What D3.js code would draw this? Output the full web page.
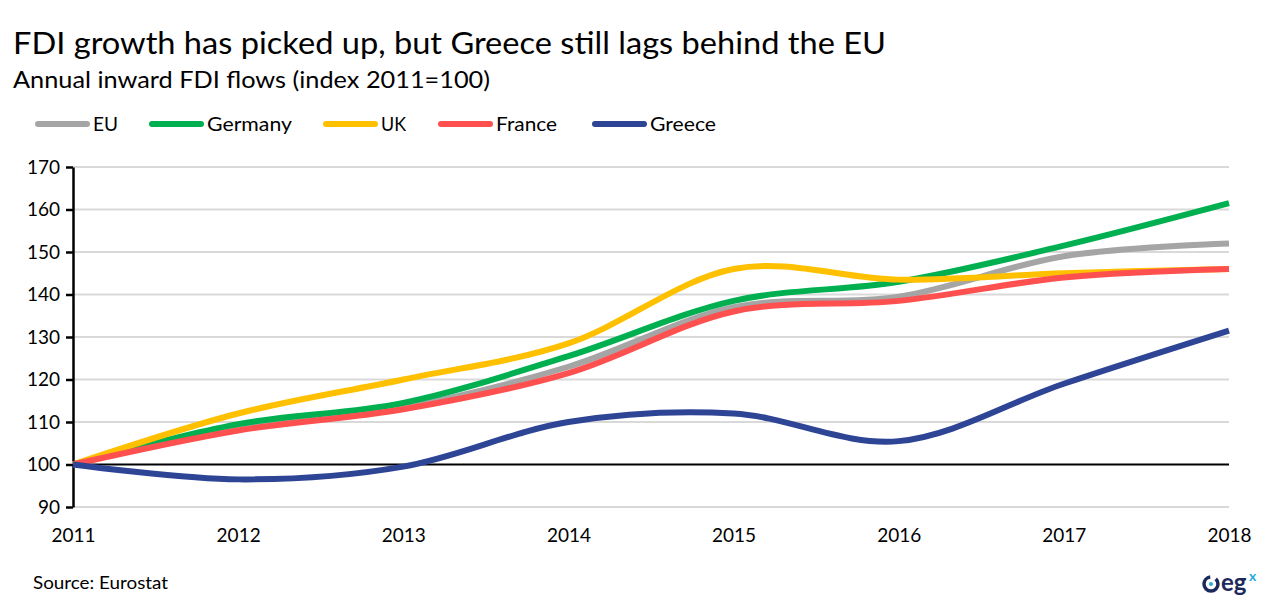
<!DOCTYPE html>
<html>
<head>
<meta charset="utf-8">
<script src="https://cdn.jsdelivr.net/npm/d3@7"></script>
<style>
  body { margin: 0; background: #fff; }
  text { font-family: Lato, "Open Sans", sans-serif; fill: #000; }
</style>
</head>
<body>
<div id="chart"></div>
<script>
// chart data
var years = [2011, 2012, 2013, 2014, 2015, 2016, 2017, 2018];
var seriesNames = ["EU", "Germany", "UK", "France", "Greece"];
var seriesColors = ["#A5A5A5", "#00B050", "#FFC000", "#FF5050", "#2E4596"];
var euValues      = [100, 109, 113.5, 123, 137, 139.5, 149, 152];
var germanyValues = [100, 109.5, 114.5, 125.5, 138.5, 143, 151.5, 161.5];
var ukValues      = [100, 112, 120, 128.5, 146, 143.5, 145, 146];
var franceValues  = [100, 108, 113, 121.5, 136, 138.5, 144, 146];
var greeceValues  = [100, 96.5, 99.5, 110, 112, 105.5, 119, 131.5];
var yTicks = [90, 100, 110, 120, 130, 140, 150, 160, 170];

var allValues = [euValues, germanyValues, ukValues, franceValues, greeceValues];

var width = 1280, height = 616;
var margins = { top: 167, bottom: 109, left: 73, right: 51 };

var svg = d3.select('#chart')
    .append('svg')
        .attr('width', width)
        .attr('height', height);

var x = d3.scaleLinear()
    .domain([2011, 2018])
    .range([margins.left, width - margins.right]);

var y = d3.scaleLinear()
    .domain([90, 170])
    .range([height - margins.bottom, margins.top]);

// titles
svg.append('text')
    .attr('x', 13).attr('y', 54)
    .attr('font-size', 31)
    .attr('textLength', 873).attr('lengthAdjust', 'spacingAndGlyphs')
    .text('FDI growth has picked up, but Greece still lags behind the EU');

svg.append('text')
    .attr('x', 13).attr('y', 88)
    .attr('font-size', 23)
    .attr('textLength', 477).attr('lengthAdjust', 'spacingAndGlyphs')
    .text('Annual inward FDI flows (index 2011=100)');

// legend
var legendX = [36, 150, 324, 439, 593];
var legendTextW = [25, 85, 25, 61, 66];
var legend = svg.append('g').selectAll('g')
    .data(seriesNames)
    .enter().append('g')
        .attr('transform', function (d, i) { return 'translate(' + legendX[i] + ',124)'; });

legend.append('line')
    .attr('x1', 2).attr('x2', 51)
    .attr('stroke', function (d, i) { return seriesColors[i]; })
    .attr('stroke-width', 6)
    .attr('stroke-linecap', 'round');

legend.append('text')
    .attr('x', 57).attr('y', 7)
    .attr('font-size', 20)
    .attr('textLength', function (d, i) { return legendTextW[i]; })
    .attr('lengthAdjust', 'spacingAndGlyphs')
    .text(function (d) { return d; });

// gridlines
svg.append('g')
    .selectAll('line')
    .data(yTicks)
    .enter().append('line')
        .attr('x1', margins.left).attr('x2', width - margins.right)
        .attr('y1', function (d) { return y(d); })
        .attr('y2', function (d) { return y(d); })
        .attr('stroke', function (d) { return d === 100 ? '#000' : '#D9D9D9'; })
        .attr('stroke-width', 2);

// y axis
var yAxis = d3.axisLeft(y)
    .tickValues(yTicks)
    .tickSize(7)
    .tickSizeOuter(0)
    .tickPadding(6);

var yG = svg.append('g')
    .attr('transform', 'translate(' + margins.left + ',0)')
    .call(yAxis);
yG.select('.domain').attr('stroke', '#000').attr('stroke-width', 2.5);
yG.selectAll('.tick line').attr('stroke', '#000').attr('stroke-width', 2.5);
yG.selectAll('.tick text')
    .attr('font-size', 19)
    .attr('font-family', 'Lato, sans-serif')
    .attr('fill', '#000');

// x axis labels
var xAxis = d3.axisBottom(x)
    .tickValues(years)
    .tickFormat(d3.format('d'))
    .tickSize(0)
    .tickPadding(22);

var xG = svg.append('g')
    .attr('transform', 'translate(0,' + y(90) + ')')
    .call(xAxis);
xG.select('.domain').remove();
xG.selectAll('.tick text')
    .attr('font-size', 19)
    .attr('font-family', 'Lato, sans-serif')
    .attr('fill', '#000');

// lines
var line = d3.line()
    .x(function (d, i) { return x(years[i]); })
    .y(function (d) { return y(d); })
    .curve(d3.curveCatmullRom.alpha(0));

svg.append('g')
    .selectAll('path')
    .data(allValues)
    .enter().append('path')
        .attr('d', line)
        .attr('fill', 'none')
        .attr('stroke', function (d, i) { return seriesColors[i]; })
        .attr('stroke-width', 6)
        .attr('stroke-linejoin', 'round');

// source
svg.append('text')
    .attr('x', 33).attr('y', 589)
    .attr('font-size', 17)
    .attr('textLength', 135).attr('lengthAdjust', 'spacingAndGlyphs')
    .text('Source: Eurostat');

// logo
var logo = svg.append('g').attr('transform', 'translate(1211,584)');
logo.append('circle')
    .attr('r', 7)
    .attr('fill', 'none')
    .attr('stroke', '#1B2A5C')
    .attr('stroke-width', 3.5)
    .attr('stroke-dasharray', '32 6');
logo.append('circle').attr('r', 2).attr('fill', '#29A9E0');
logo.append('text')
    .attr('x', 10).attr('y', 7)
    .attr('font-size', 24)
    .attr('font-weight', 'bold')
    .style('fill', '#1B2A5C')
    .text('eg');
logo.append('text')
    .attr('x', 38).attr('y', -3)
    .attr('font-size', 14)
    .attr('font-weight', 'bold')
    .style('fill', '#29A9E0')
    .text('x');
</script>
</body>
</html>
